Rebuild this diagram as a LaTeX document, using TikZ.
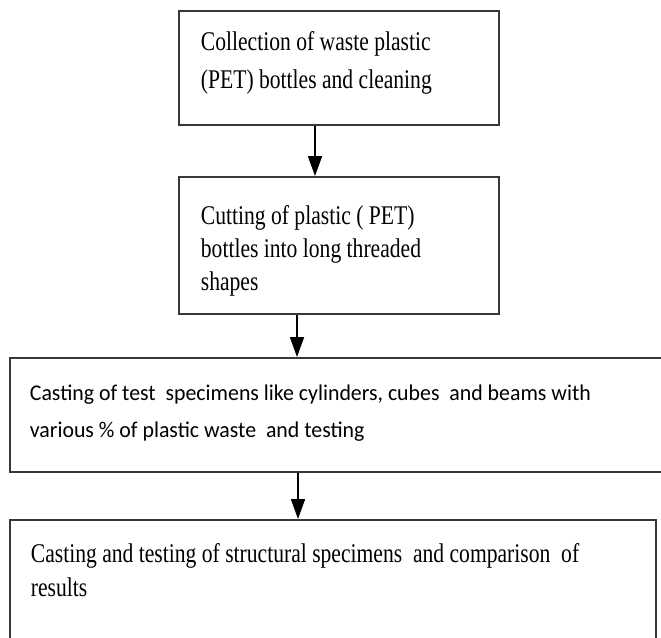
\documentclass[tikz,border=0pt]{standalone}
\usepackage{fontspec}
\setmainfont{Liberation Serif}
\newfontfamily\serifc{Liberation Serif}[FakeStretch=0.8]
\newfontfamily\calib{Carlito}[FakeStretch=0.97]
\usetikzlibrary{arrows.meta}
\newcommand\boxtext[6]{% width, height, pad, first baseline, baselineskip, text
  \begin{minipage}[t][#2][t]{#1}\lineskiplimit=-20pt\baselineskip=#5\leftskip=#3\relax\rule{0pt}{#4}#6\par\end{minipage}}
\tikzset{
  box/.style={draw=black!78, line width=1.8pt, inner sep=0pt, anchor=north west},
  arr/.style={-{Triangle[width=14pt,length=20pt]}, line width=1.8pt, draw=black},
  serif/.style={font=\serifc\fontsize{27}{38}\selectfont},
  sans/.style={font=\calib\fontsize{22.5}{36}\selectfont}
}
\begin{document}
\begin{tikzpicture}[x=1pt,y=-1pt]
\clip (0,0) rectangle (661,637);
\fill[white] (0,0) rectangle (661,637);
\node[box, serif] (b1) at (178,10)
  {\boxtext{320pt}{114pt}{22pt}{40pt}{38pt}{Collection of waste plastic\\(PET) bottles and cleaning}};
\node[box, serif] (b2) at (178,176)
  {\boxtext{320pt}{137pt}{22pt}{48pt}{33pt}{Cutting of plastic ( PET)\\bottles into long threaded\\shapes}};
\node[box, sans] (b3) at (9,357)
  {\boxtext{661pt}{114pt}{20pt}{43pt}{37pt}{Casting of test\ \ specimens like cylinders, cubes\ \ and beams with\\various \% of plastic waste\ \ and testing}};
\node[box, serif] (b4) at (9,519)
  {\boxtext{646pt}{126pt}{21pt}{43pt}{34pt}{Casting and testing of structural specimens\ \ and comparison\ \ of\\results}};
\coordinate (x1) at (315,0);
\coordinate (x2) at (297,0);
\coordinate (x3) at (298,0);
\draw[arr] (b1.south -| x1) -- (b2.north -| x1);
\draw[arr] (b2.south -| x2) -- (b3.north -| x2);
\draw[arr] (b3.south -| x3) -- (b4.north -| x3);
\end{tikzpicture}
\end{document}
